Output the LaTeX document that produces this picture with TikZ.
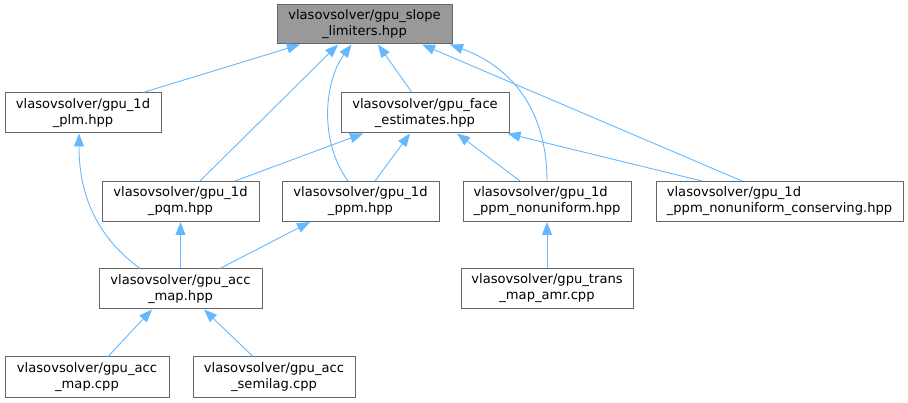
\documentclass[tikz,border=0pt]{standalone}
\usepackage{fontspec}
\setmainfont{DejaVu Sans}
\usetikzlibrary{arrows.meta}
\definecolor{edgeblue}{HTML}{63B8FF}
\definecolor{boxborder}{HTML}{666666}
\definecolor{topfill}{HTML}{999999}
\tikzset{
  file/.style={draw=boxborder, line width=1pt, fill=white, inner sep=0pt, align=center,
    minimum height=40pt, font=\fontsize{13.1}{16}\selectfont},
  mainfile/.style={file, fill=topfill},
  edge/.style={draw=edgeblue, line width=0.9pt, -{Triangle[length=13pt,width=10pt]}}
}
\begin{document}
\begin{tikzpicture}[x=1pt,y=-1pt]
\useasboundingbox (0,0) rectangle (908,403);
\node[mainfile, minimum width=175pt, minimum height=39pt] (top) at (364.5,24.5) {vlasovsolver/gpu\_slope\\\_limiters.hpp};
\node[file, minimum width=156pt] (plm) at (83,113) {vlasovsolver/gpu\_1d\\\_plm.hpp};
\node[file, minimum width=168pt] (face) at (425,113) {vlasovsolver/gpu\_face\\\_estimates.hpp};
\node[file, minimum width=157pt] (pqm) at (180.5,201.5) {vlasovsolver/gpu\_1d\\\_pqm.hpp};
\node[file, minimum width=157pt] (ppm) at (360.5,201.5) {vlasovsolver/gpu\_1d\\\_ppm.hpp};
\node[file, minimum width=168pt, align=left] (ppmnu) at (547,201.5) {vlasovsolver/gpu\_1d\\\_ppm\_nonuniform.hpp};
\node[file, minimum width=247pt, align=left] (cons) at (779.5,201.5) {vlasovsolver/gpu\_1d\\\_ppm\_nonuniform\_conserving.hpp};
\node[file, minimum width=163pt] (accmap) at (180.5,289) {vlasovsolver/gpu\_acc\\\_map.hpp};
\node[file, minimum width=172pt] (trans) at (547,288.5) {vlasovsolver/gpu\_trans\\\_map\_amr.cpp};
\node[file, minimum width=164pt] (acccpp) at (87,377) {vlasovsolver/gpu\_acc\\\_map.cpp};
\node[file, minimum width=162pt] (semilag) at (274,377) {vlasovsolver/gpu\_acc\\\_semilag.cpp};
% edges to top
\draw[edge] ([xshift=60pt]plm.north) -- ([xshift=-64.5pt]top.south);
\draw[edge] ([xshift=19.5pt]pqm.north) -- ([xshift=-26.5pt]top.south);
\draw[edge] ([xshift=-12.5pt]ppm.north) .. controls (318,140) and (325,80) .. ([xshift=-13pt]top.south);
\draw[edge] ([xshift=-13pt]face.north) -- ([xshift=13.5pt]top.south);
\draw[edge] (ppmnu.north) .. controls (547,120) and (520,70) .. ([xshift=85.5pt]top.south);
\draw[edge] ([xshift=-37.5pt]cons.north) -- ([xshift=57.5pt]top.south);
% edges to face
\draw[edge] ([xshift=54.5pt]pqm.north) -- ([xshift=-62pt]face.south);
\draw[edge] ([xshift=14.5pt]ppm.north) -- ([xshift=-15pt]face.south);
\draw[edge] ([xshift=-27pt]ppmnu.north) -- ([xshift=32pt]face.south);
\draw[edge] ([xshift=-77.5pt]cons.north) -- ([xshift=-2pt]face.south east);
% edges to acc map hpp level
\draw[edge] ([xshift=-40.5pt]accmap.north) .. controls (90,232) and (79,185) .. ([xshift=-4pt]plm.south);
\draw[edge] (accmap.north) -- (pqm.south);
\draw[edge] ([xshift=39.5pt]accmap.north) -- ([xshift=-50.5pt]ppm.south);
\draw[edge] (trans.north) -- (ppmnu.south);
\draw[edge] ([xshift=21pt]acccpp.north) -- ([xshift=-28.5pt]accmap.south);
\draw[edge] ([xshift=-21pt]semilag.north) -- ([xshift=23.5pt]accmap.south);
\end{tikzpicture}
\end{document}
